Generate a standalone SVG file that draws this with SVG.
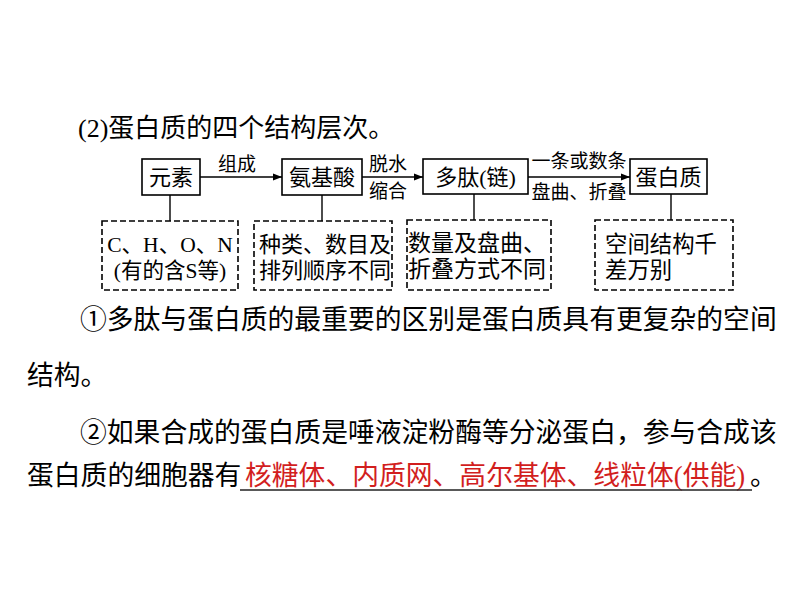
<svg xmlns="http://www.w3.org/2000/svg" width="794" height="603" viewBox="0 0 794 603">
<defs>
<marker id="arr" markerWidth="10" markerHeight="8" refX="9" refY="4" orient="auto" markerUnits="userSpaceOnUse">
<path d="M0,0.5 L9,4 L0,7.5 Z" fill="#000"/>
</marker>
<style>
.t{font-family:"Liberation Serif","Noto Sans CJK SC",serif;fill:#000}
.box{fill:#fff;stroke:#000;stroke-width:1.6}
.dbox{fill:none;stroke:#000;stroke-width:1.6;stroke-dasharray:6 3}
.ln{stroke:#000;stroke-width:1.4;fill:none}
.arrow{stroke:#000;stroke-width:1.4;fill:none;marker-end:url(#arr)}
.lab{font-size:19px}
.nt{font-size:22px}
.dt{font-size:21.5px}
.p{font-size:26.8px}
.red{fill:#d21e1e}
</style>
</defs>
<rect width="794" height="603" fill="#fff"/>
<text class="t" x="78" y="137" font-size="26">(2)蛋白质的四个结构层次。</text>
<g id="connectors">
<line class="arrow" x1="200" y1="177" x2="282" y2="177"/>
<line class="arrow" x1="362" y1="177" x2="423" y2="177"/>
<line class="arrow" x1="528" y1="177" x2="630" y2="177"/>
<line class="ln" x1="170" y1="195" x2="170" y2="221"/>
<line class="ln" x1="322" y1="195" x2="322" y2="221"/>
<line class="ln" x1="474" y1="194" x2="474" y2="220"/>
<line class="ln" x1="671" y1="194" x2="671" y2="220"/>
<text class="t lab" x="237" y="171" text-anchor="middle">组成</text>
<text class="t lab" x="388" y="171" text-anchor="middle">脱水</text>
<text class="t lab" x="388" y="198" text-anchor="middle">缩合</text>
<text class="t lab" x="579" y="168" text-anchor="middle">一条或数条</text>
<text class="t lab" x="579" y="199" text-anchor="middle">盘曲、折叠</text>
</g>
<g id="n-yuansu">
<rect class="box" x="142" y="159" width="58" height="36"/>
<text class="t nt" x="171" y="185" text-anchor="middle">元素</text>
</g>
<g id="n-anjisuan">
<rect class="box" x="282" y="159" width="80" height="36"/>
<text class="t nt" x="322" y="185" text-anchor="middle">氨基酸</text>
</g>
<g id="n-duotai">
<rect class="box" x="423" y="159" width="105" height="35"/>
<text class="t nt" x="475.5" y="184.5" text-anchor="middle">多肽(链)</text>
</g>
<g id="n-danbaizhi">
<rect class="box" x="630" y="159" width="77" height="35"/>
<text class="t nt" x="668.5" y="184.5" text-anchor="middle">蛋白质</text>
</g>
<g id="d-yuansu">
<rect class="dbox" x="102" y="221" width="136" height="69"/>
<text class="t dt" x="170" y="252" text-anchor="middle">C、H、O、N</text>
<text class="t dt" x="170" y="278" text-anchor="middle">(有的含S等)</text>
</g>
<g id="d-anjisuan">
<rect class="dbox" x="254" y="221" width="138" height="69"/>
<text class="t nt" x="259" y="252">种类、数目及</text>
<text class="t nt" x="259" y="278">排列顺序不同</text>
</g>
<g id="d-duotai">
<rect class="dbox" x="407" y="220" width="144" height="70"/>
<text class="t" font-size="23" x="408" y="251">数量及盘曲、</text>
<text class="t" font-size="23" x="408" y="277">折叠方式不同</text>
</g>
<g id="d-danbaizhi">
<rect class="dbox" x="595" y="220" width="138" height="70"/>
<text class="t" font-size="22.4" x="605" y="252">空间结构千</text>
<text class="t" font-size="22.4" x="605" y="278">差万别</text>
</g>
<text class="t p" x="80" y="329">①多肽与蛋白质的最重要的区别是蛋白质具有更复杂的空间</text>
<text class="t p" x="27" y="385">结构。</text>
<text class="t p" x="80" y="442">②如果合成的蛋白质是唾液淀粉酶等分泌蛋白，参与合成该</text>
<text class="t p" x="27" y="485">蛋白质的细胞器有</text>
<text class="t p red" x="245" y="485">核糖体、内质网、高尔基体、线粒体(供能)</text>
<text class="t p" x="750" y="485">。</text>
<line x1="240" y1="490" x2="752" y2="490" stroke="#222" stroke-width="1.6"/>
</svg>
